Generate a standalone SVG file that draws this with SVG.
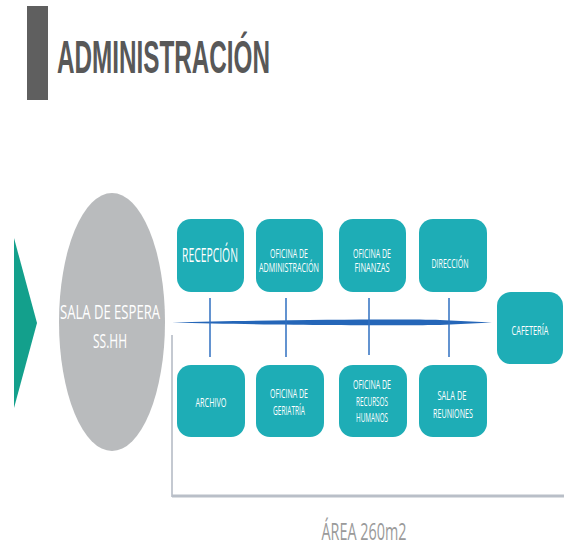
<svg xmlns="http://www.w3.org/2000/svg" width="564" height="545" viewBox="0 0 564 545">
<style>
.box{fill:#1eadb6;}
.lbl{font-family:"Open Sans","Liberation Sans",sans-serif;fill:#ffffff;text-anchor:middle;}
.s{font-size:13px;}
.v{stroke:#2f6fc0;stroke-width:1.5;fill:none;}
</style>
<rect width="564" height="545" fill="#ffffff"/>
<g id="header">
<rect x="27" y="6" width="21" height="94" fill="#5f5f5f"/>
<text x="57" y="73" font-family="Liberation Sans,Arial,sans-serif" font-size="47" font-weight="bold" fill="#585858" textLength="213" lengthAdjust="spacingAndGlyphs">ADMINISTRACIÓN</text>
</g>
<g id="arrow">
<polygon points="14,238 37,323 14,408" fill="#13a08c"/>
</g>
<g id="frame">
<line x1="172" y1="335" x2="172" y2="497" stroke="#c4c9d1" stroke-width="2"/>
<line x1="172" y1="496" x2="564" y2="496" stroke="#b9bfc8" stroke-width="3"/>
</g>
<g id="connectors">
<path d="M172,322.5 C260,320 400,319 440,320 L492,322.5 L440,325 C400,325.5 260,325 172,322.5 Z" fill="#2566b8"/>
<line class="v" x1="210" y1="298" x2="210" y2="357"/>
<line class="v" x1="286" y1="298" x2="286" y2="357"/>
<line class="v" x1="369" y1="298" x2="369" y2="355"/>
<line class="v" x1="449" y1="298" x2="449" y2="357"/>
</g>
<g id="sala-espera">
<ellipse cx="112" cy="322" rx="53" ry="129" fill="#b9bbbd"/>
<text class="lbl" x="110" y="319" font-size="20" textLength="100" lengthAdjust="spacingAndGlyphs" fill="#f2f2f2">SALA DE ESPERA</text>
<text class="lbl" x="110" y="348" font-size="20" textLength="34" lengthAdjust="spacingAndGlyphs" fill="#f2f2f2">SS.HH</text>
</g>
<g id="recepcion">
<rect class="box" x="177" y="219" width="67" height="73" rx="14"/>
<text class="lbl" x="210" y="262" font-size="20" textLength="56" lengthAdjust="spacingAndGlyphs">RECEPCIÓN</text>
</g>
<g id="oficina-administracion">
<rect class="box" x="256" y="219" width="67" height="73" rx="14"/>
<text class="lbl s" x="289" y="258" textLength="38" lengthAdjust="spacingAndGlyphs">OFICINA DE</text>
<text class="lbl s" x="289" y="272" textLength="60" lengthAdjust="spacingAndGlyphs">ADMINISTRACIÓN</text>
</g>
<g id="oficina-finanzas">
<rect class="box" x="339" y="219" width="67" height="73" rx="14"/>
<text class="lbl s" x="372" y="258" textLength="38" lengthAdjust="spacingAndGlyphs">OFICINA DE</text>
<text class="lbl s" x="372" y="272" textLength="35" lengthAdjust="spacingAndGlyphs">FINANZAS</text>
</g>
<g id="direccion">
<rect class="box" x="419" y="219" width="68" height="73" rx="14"/>
<text class="lbl s" x="450" y="268" textLength="37" lengthAdjust="spacingAndGlyphs">DIRECCIÓN</text>
</g>
<g id="archivo">
<rect class="box" x="177" y="365" width="68" height="72" rx="14"/>
<text class="lbl s" x="211" y="407" textLength="31" lengthAdjust="spacingAndGlyphs">ARCHIVO</text>
</g>
<g id="oficina-geriatria">
<rect class="box" x="256" y="365" width="68" height="72" rx="14"/>
<text class="lbl s" x="289" y="398" textLength="38" lengthAdjust="spacingAndGlyphs">OFICINA DE</text>
<text class="lbl s" x="289" y="415" textLength="32" lengthAdjust="spacingAndGlyphs">GERIATRÍA</text>
</g>
<g id="oficina-rrhh">
<rect class="box" x="339" y="365" width="68" height="72" rx="14"/>
<text class="lbl s" x="372" y="389" textLength="38" lengthAdjust="spacingAndGlyphs">OFICINA DE</text>
<text class="lbl s" x="372" y="406" textLength="32" lengthAdjust="spacingAndGlyphs">RECURSOS</text>
<text class="lbl s" x="372" y="422" textLength="32" lengthAdjust="spacingAndGlyphs">HUMANOS</text>
</g>
<g id="sala-reuniones">
<rect class="box" x="419" y="365" width="68" height="72" rx="14"/>
<text class="lbl s" x="452" y="400" textLength="29" lengthAdjust="spacingAndGlyphs">SALA DE</text>
<text class="lbl s" x="453" y="418" textLength="40" lengthAdjust="spacingAndGlyphs">REUNIONES</text>
</g>
<g id="cafeteria">
<rect class="box" x="497" y="292" width="66" height="72" rx="14"/>
<text class="lbl s" x="530" y="335" textLength="37" lengthAdjust="spacingAndGlyphs">CAFETERÍA</text>
</g>
<g id="area">
<text x="364" y="540" font-family="Open Sans,Liberation Sans,sans-serif" font-size="23" fill="#9a9a9a" text-anchor="middle" textLength="85" lengthAdjust="spacingAndGlyphs">ÁREA 260m2</text>
</g>
</svg>
